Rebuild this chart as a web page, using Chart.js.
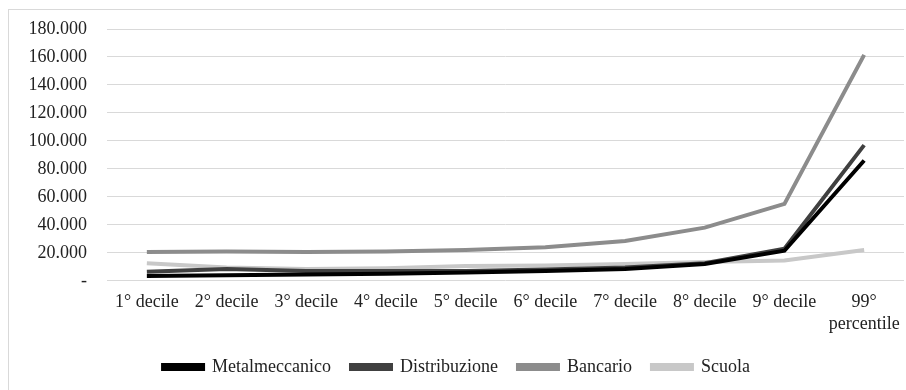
<!DOCTYPE html>
<html>
<head>
<meta charset="utf-8">
<script src="https://cdn.jsdelivr.net/npm/chart.js@4"></script>
<style>
  body { margin: 0; background: #fff; }
  #box { position: absolute; left: 8px; top: 9px; width: 898px; height: 381px;
         border-left: 1px solid #d9d9d9; border-top: 1px solid #d9d9d9; }
  canvas { display: block; }
</style>
</head>
<body>
<div id="box"><canvas id="chart" width="897" height="380"></canvas></div>
<script>
const categories = ['1° decile', '2° decile', '3° decile', '4° decile', '5° decile',
                    '6° decile', '7° decile', '8° decile', '9° decile', ['99°', 'percentile']];
const metalmeccanico = [3500, 4000, 4500, 5000, 6000, 7000, 8500, 12000, 21500, 86000];
const distribuzione = [6500, 8500, 7000, 7000, 7000, 8000, 9500, 12500, 23000, 97000];
const bancario = [20500, 21000, 20500, 21000, 22000, 24000, 28500, 38000, 55000, 161500];
const scuola = [12500, 9500, 8500, 9000, 10500, 11000, 12000, 13500, 14500, 22000];
const yTicks = [0, 20000, 40000, 60000, 80000, 100000, 120000, 140000, 160000, 180000];

function line(label, data, color) {
    return { label: label, data: data, borderColor: color, backgroundColor: color,
             borderWidth: 4, pointRadius: 0, tension: 0 };
}

const font = { family: 'Liberation Serif', size: 18 };

new Chart(document.getElementById('chart'), {
    type: 'line',
    data: {
        labels: categories,
        datasets: [
            line('Metalmeccanico', metalmeccanico, '#000000'),
            line('Distribuzione', distribuzione, '#404040'),
            line('Bancario', bancario, '#8c8c8c'),
            line('Scuola', scuola, '#c8c8c8')
        ]
    },
    options: {
        responsive: false,
        animation: false,
        layout: { padding: { top: 19, right: 2, left: 0, bottom: 4 } },
        plugins: {
            legend: {
                position: 'bottom',
                labels: { color: '#222', font: font, boxWidth: 40, boxHeight: 4, padding: 20 }
            },
            tooltip: { enabled: false }
        },
        scales: {
            x: {
                offset: true,
                grid: { display: false },
                border: { display: false },
                ticks: { color: '#222', font: font, maxRotation: 0, autoSkip: false, padding: 3 }
            },
            y: {
                min: 0, max: 180000,
                afterFit: function(axis) { axis.width = 98; axis.paddingTop = 0; axis.paddingBottom = 0; },
                afterBuildTicks: function(axis) { axis.ticks = yTicks.map(v => ({ value: v })); },
                grid: { color: '#d9d9d9', lineWidth: 1, drawTicks: false },
                border: { display: false },
                ticks: {
                    color: '#222', font: font, padding: 20,
                    callback: v => v === 0 ? '-' : (v / 1000) + '.000'
                }
            }
        }
    }
});
</script>
</body>
</html>
